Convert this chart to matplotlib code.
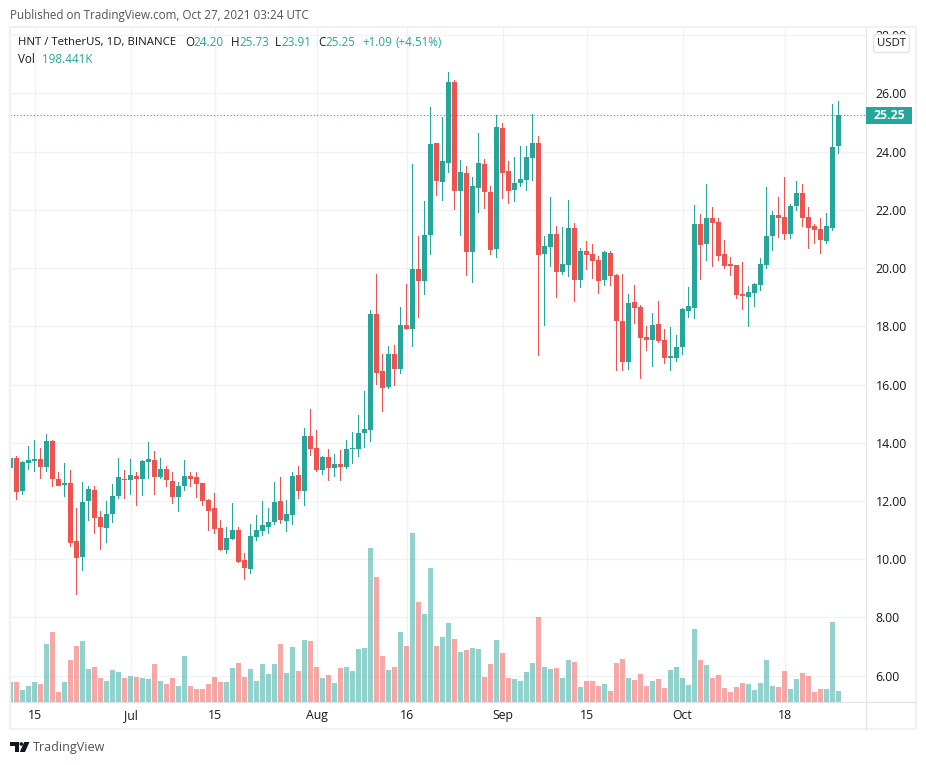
import pandas as pd
import matplotlib
matplotlib.use('Agg')
import matplotlib.pyplot as plt
import matplotlib.dates as mdates
from matplotlib.patches import Rectangle, Polygon, Circle, FancyBboxPatch

plt.rcParams['font.family'] = ['Open Sans', 'DejaVu Sans']

# HNT/USDT daily candles
days = pd.date_range('2021-06-11', periods=139)
opens = [13.12, 13.46, 12.33, 13.29, 13.36, 13.43, 13.15, 14.05, 12.74, 12.53, 12.60, 10.61, 10.06, 11.98, 12.36, 11.43, 11.06, 11.54, 12.16, 12.77,
         12.71, 12.84, 12.74, 13.32, 13.39, 12.81, 13.08, 12.67, 12.12, 12.50, 12.84, 12.81, 12.60, 12.02, 11.74, 11.06, 10.33, 10.68, 10.99, 9.96,
         9.65, 10.75, 10.95, 11.12, 11.26, 11.98, 11.30, 11.50, 12.88, 12.33, 14.22, 13.81, 13.05, 13.50, 13.12, 13.26, 13.15, 13.77, 13.77, 14.32,
         14.42, 18.42, 16.45, 15.91, 17.04, 16.53, 18.04, 17.90, 19.96, 19.55, 21.13, 24.29, 22.95, 23.61, 26.39, 22.64, 23.26, 20.55, 22.75, 23.57,
         22.61, 20.65, 24.81, 23.33, 22.68, 22.92, 23.02, 23.78, 24.29, 20.48, 20.72, 21.17, 19.86, 20.10, 21.37, 19.58, 20.58, 20.48, 20.27, 19.59,
         20.51, 19.76, 18.18, 16.77, 18.83, 18.66, 17.63, 17.52, 18.07, 17.52, 16.90, 16.90, 17.28, 18.52, 18.62, 21.51, 20.82, 21.72, 21.58, 20.48,
         20.13, 20.10, 19.10, 19.00, 19.14, 19.41, 20.10, 21.10, 21.82, 21.75, 21.17, 22.13, 22.57, 21.75, 21.44, 21.34, 20.93, 21.37, 24.20]
highs = [14.00, 13.56, 13.36, 13.87, 14.08, 13.81, 14.29, 14.08, 12.98, 13.29, 13.05, 11.74, 12.64, 12.50, 12.50, 11.64, 11.98, 12.57, 13.46, 13.05,
         13.43, 13.01, 13.39, 14.01, 13.70, 13.46, 13.19, 12.98, 12.64, 13.39, 12.98, 13.01, 12.60, 12.05, 12.26, 11.33, 11.09, 11.92, 11.09, 10.20,
         11.19, 11.50, 11.98, 11.74, 12.64, 12.81, 12.02, 13.01, 13.19, 14.49, 15.15, 14.42, 13.56, 13.77, 13.60, 13.74, 14.11, 14.36, 14.94, 15.76,
         18.55, 19.79, 17.04, 17.32, 17.35, 18.66, 19.45, 23.57, 21.10, 22.30, 25.53, 24.29, 25.19, 26.73, 26.46, 23.71, 23.50, 23.12, 24.64, 23.74,
         22.82, 25.26, 24.98, 23.67, 23.81, 24.19, 24.19, 25.29, 24.53, 21.10, 22.44, 21.44, 21.41, 22.33, 21.54, 20.68, 20.93, 20.82, 20.41, 20.58,
         20.58, 19.79, 19.79, 19.10, 19.41, 18.73, 18.00, 18.45, 18.86, 17.90, 17.97, 17.70, 18.62, 19.34, 22.16, 21.85, 22.88, 22.09, 21.72, 20.96,
         20.38, 20.10, 20.20, 19.38, 19.48, 20.34, 22.78, 21.96, 22.44, 23.12, 22.20, 22.99, 22.88, 22.09, 21.51, 21.72, 21.89, 25.63, 25.73]
lows = [12.65, 12.02, 12.19, 13.05, 13.01, 12.77, 13.01, 12.47, 12.50, 12.12, 10.40, 8.75, 9.58, 11.30, 10.85, 10.33, 10.54, 11.23, 12.05, 12.05,
        12.22, 11.81, 12.16, 12.74, 12.19, 12.74, 12.47, 11.88, 11.61, 12.33, 12.47, 12.09, 11.81, 10.95, 10.85, 10.27, 10.16, 10.64, 9.85, 9.27,
        9.48, 10.61, 10.78, 10.85, 11.16, 11.19, 10.92, 11.16, 12.05, 11.81, 13.56, 12.98, 12.88, 12.67, 12.81, 12.67, 13.08, 13.26, 13.50, 13.81,
        14.01, 15.98, 15.05, 15.84, 15.94, 16.35, 17.87, 17.28, 18.28, 19.07, 20.44, 22.47, 22.30, 23.26, 21.99, 21.10, 19.72, 19.48, 21.89, 22.02,
        20.44, 20.34, 22.37, 22.20, 22.27, 22.78, 22.64, 22.99, 16.97, 18.00, 20.03, 18.97, 19.76, 19.69, 18.83, 19.31, 19.93, 19.62, 19.10, 19.38,
        19.38, 16.46, 16.46, 16.49, 18.07, 16.18, 17.15, 16.60, 17.42, 16.70, 16.46, 16.77, 17.01, 18.28, 18.24, 19.59, 20.24, 20.03, 20.24, 19.96,
        19.72, 18.93, 18.55, 17.97, 18.66, 19.21, 19.96, 20.58, 21.03, 20.96, 20.99, 21.96, 21.41, 20.65, 20.82, 20.48, 20.82, 21.27, 23.91]
closes = [13.46, 12.29, 13.32, 13.39, 13.43, 13.15, 14.05, 12.74, 12.50, 12.60, 10.54, 10.03, 11.95, 12.40, 11.40, 11.09, 11.54, 12.16, 12.81, 12.71,
          12.88, 12.74, 13.36, 13.43, 12.81, 13.08, 12.71, 12.12, 12.50, 12.84, 12.77, 12.57, 11.98, 11.67, 11.02, 10.33, 10.71, 10.99, 9.89, 9.68,
          10.78, 10.99, 11.16, 11.26, 11.95, 11.33, 11.54, 12.84, 12.33, 14.22, 13.77, 13.05, 13.50, 13.12, 13.26, 13.15, 13.77, 13.81, 14.32, 14.46,
          18.41, 16.39, 15.88, 17.04, 16.53, 18.04, 17.90, 19.96, 19.55, 21.13, 24.26, 22.99, 23.67, 26.39, 22.64, 23.30, 20.55, 22.82, 23.61, 22.61,
          20.62, 24.84, 23.26, 22.64, 22.92, 23.06, 23.81, 24.29, 20.44, 20.75, 21.17, 19.86, 20.13, 21.37, 19.58, 20.58, 20.44, 20.24, 19.55, 20.55,
          19.72, 18.18, 16.77, 18.79, 18.62, 17.59, 17.52, 18.04, 17.49, 16.90, 16.97, 17.28, 18.59, 18.69, 21.51, 20.79, 21.72, 21.54, 20.41, 20.07,
          20.07, 19.07, 19.04, 19.17, 19.45, 20.13, 21.10, 21.82, 21.72, 21.17, 22.13, 22.57, 21.72, 21.37, 21.30, 20.96, 21.44, 24.16, 25.25]
volumes = [360, 360, 216, 288, 360, 324, 1044, 1260, 180, 360, 756, 1008, 1098, 594, 630, 432, 378, 576, 540, 432,
           468, 450, 432, 414, 684, 378, 324, 432, 288, 828, 288, 234, 234, 324, 450, 360, 360, 612, 702, 450,
           594, 378, 684, 504, 684, 1044, 522, 990, 558, 1116, 1098, 630, 432, 486, 342, 612, 630, 558, 954, 972,
           2772, 2250, 828, 576, 630, 1260, 1008, 3042, 1800, 1584, 2412, 1008, 1170, 1422, 1134, 900, 936, 972, 954, 450,
           684, 1116, 882, 432, 414, 378, 540, 702, 1530, 630, 594, 612, 432, 756, 720, 270, 378, 378, 288, 324,
           198, 702, 774, 432, 396, 504, 288, 378, 414, 252, 576, 630, 432, 306, 1314, 756, 666, 432, 486, 252,
           180, 270, 342, 324, 216, 342, 756, 288, 270, 558, 234, 414, 522, 468, 180, 234, 234, 1440, 198.441]

price_ticks = [6, 8, 10, 12, 14, 16, 18, 20, 22, 24, 26, 28]
date_ticks = ['2021-06-15', '2021-07-01', '2021-07-15', '2021-08-01', '2021-08-16', '2021-09-01', '2021-09-15', '2021-10-01', '2021-10-18']
date_labels = ['15', 'Jul', '15', 'Aug', '16', 'Sep', '15', 'Oct', '18']
last_price = 25.25

UP = '#26a69a'
DOWN = '#ef5350'
GRID = '#f1f2f5'
FRAME = '#f0f1f7'
LINE = '#e0e3eb'
TEXT = '#131722'
W, H = 926, 765

x = mdates.date2num(days)
colors = [UP if c >= o else DOWN for o, c in zip(opens, closes)]

fig = plt.figure(figsize=(W / 100, H / 100), dpi=100)
# chart pane: left 10px, right 866px, top 27px, bottom 702px
ax = fig.add_axes([10 / W, 1 - 702 / H, 856 / W, 675 / H])

# wicks as 1px bars so they stay crisp
ax.bar(x, [h - l for h, l in zip(highs, lows)], width=1 / 6, bottom=lows, color=colors, lw=0, zorder=3)
ax.bar(x, [abs(c - o) for o, c in zip(opens, closes)], width=5 / 6,
       bottom=[min(o, c) for o, c in zip(opens, closes)], color=colors, lw=0, zorder=4)
ax.axhline(last_price, color=UP, lw=0.8, ls=(0, (1, 2)), zorder=2)

# volume overlay, 1px = 18K
vol = ax.twinx()
vol.bar(x, volumes, width=5 / 6, color=colors, alpha=0.5, lw=0)
vol.set_ylim(0, 675 * 18)
vol.axis('off')

ax.set_xlim(x[0] - 1 / 12, x[0] + 142.58)
ax.set_ylim(5.09, 28.285)
ax.set_xticks(mdates.date2num(pd.to_datetime(date_ticks)))
ax.set_xticklabels(date_labels, fontsize=8.8, color=TEXT)
ax.yaxis.tick_right()
ax.set_yticks(price_ticks)
ax.set_yticklabels(['%.2f' % p for p in price_ticks], fontsize=8.8, color=TEXT)
ax.tick_params(axis='both', length=0)
ax.tick_params(axis='y', pad=7)
ax.tick_params(axis='x', pad=5)
ax.grid(True, color=GRID, lw=1)
ax.set_axisbelow(True)
for side in ['top', 'left']:
    ax.spines[side].set_visible(False)
for side in ['bottom', 'right']:
    ax.spines[side].set_color(LINE)

# everything outside the chart, in pixels
page = fig.add_axes([0, 0, 1, 1], zorder=10)
page.set_xlim(0, W)
page.set_ylim(H, 0)
page.axis('off')

page.add_patch(Rectangle((10, 27), 906, 702, fill=False, ec=FRAME, lw=1.5))
page.plot([866, 866], [702, 729], color=LINE, lw=1)
page.plot([866, 916], [702, 702], color=LINE, lw=1)

page.text(10, 15, 'Published on TradingView.com, Oct 27, 2021 03:24 UTC', fontsize=8.4, color='#50535e', va='center')

page.text(18, 42, 'HNT / TetherUS, 1D, BINANCE', fontsize=8.2, color=TEXT, va='center')
for px, s in [(185, 'O'), (231, 'H'), (275, 'L'), (318, 'C')]:
    page.text(px, 42, s, fontsize=8.4, color=TEXT, va='center')
for px, s in [(193, '24.20'), (239, '25.73'), (281, '23.91'), (325, '25.25'), (362, '+1.09'), (395, '(+4.51%)')]:
    page.text(px, 42, s, fontsize=8.4, color=UP, va='center')
page.text(18, 59, 'Vol', fontsize=8.4, color=TEXT, va='center')
page.text(42, 59, '198.441K', fontsize=8.4, color=UP, va='center')

# currency badge and last price label
page.add_patch(FancyBboxPatch((875, 36), 33, 15, boxstyle='round,pad=1.5,rounding_size=3', fc='white', ec=LINE, lw=1))
page.text(891.5, 43.5, 'USDT', fontsize=8.2, color=TEXT, ha='center', va='center')
page.add_patch(Rectangle((866, 107), 46, 17, fc=UP, ec='none'))
page.text(889, 115.5, '%.2f' % last_price, fontsize=8.8, color='white', fontweight='bold', ha='center', va='center')

# logo
page.add_patch(Polygon([(10, 742), (19, 742), (19, 752), (15, 752), (15, 746), (10, 746)], fc=TEXT, ec='none'))
page.add_patch(Circle((21.3, 744), 1.8, fc=TEXT, ec='none'))
page.add_patch(Polygon([(24.2, 742), (29.5, 742), (25, 752), (19.8, 752)], fc=TEXT, ec='none'))
page.text(33, 747.5, 'TradingView', fontsize=9, color='#4c525e', va='center')

fig.savefig('out.png', dpi=100)
